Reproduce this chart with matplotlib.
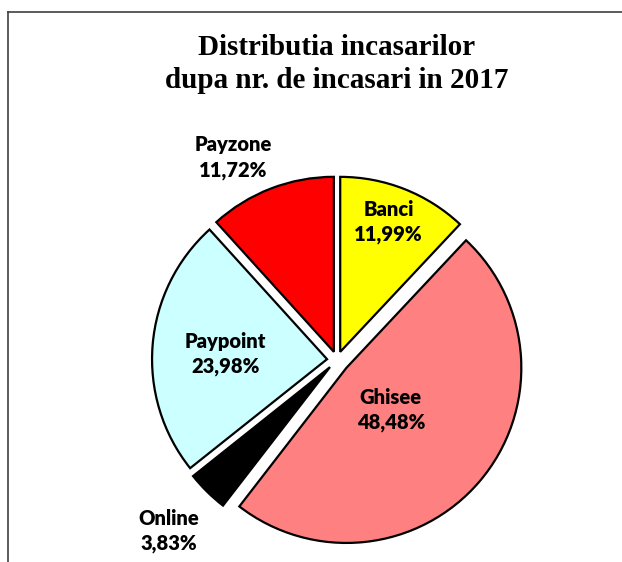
import numpy as np
import matplotlib
matplotlib.use("Agg")
import matplotlib.pyplot as plt
from matplotlib.lines import Line2D

categories = ["Banci", "Ghisee", "Online", "Paypoint", "Payzone"]
values = [11.99, 48.48, 3.83, 23.98, 11.72]
labels_pct = ["11,99%", "48,48%", "3,83%", "23,98%", "11,72%"]
colors = ["#FFFF00", "#FF8080", "#000000", "#CCFFFF", "#FF0000"]
explode = [0.05, 0.07, 0.057, 0.057, 0.05]
# label radius (fraction of R) and angle shift in degrees
label_r = [0.84, 0.42, 1.37, 0.64, 1.30]
label_dang = [1.0, -2.5, 0.0, 1.5, 6.0]

W, H, DPI = 622, 562, 100
fig = plt.figure(figsize=(W / DPI, H / DPI), dpi=DPI)
ax = fig.add_axes([0, 0, 1, 1])

R_px = 175.0
cx_px, cy_px = 337.0, 360.0  # from top-left

wedges, _ = ax.pie(values, colors=colors, startangle=90, counterclock=False,
                   explode=explode, radius=1.0,
                   wedgeprops=dict(edgecolor="black", linewidth=1.6))

for w, cat, pct, rf, da in zip(wedges, categories, labels_pct, label_r, label_dang):
    ang = np.deg2rad((w.theta1 + w.theta2) / 2 + da)
    x, y = rf * np.cos(ang), rf * np.sin(ang)
    ax.text(x, y, f"{cat}\n{pct}", ha="center", va="center", fontsize=14.5,
            fontweight="heavy", family="Lato", color="black", linespacing=1.35)

ax.set_aspect("auto")
ax.set_xlim(-cx_px / R_px, (W - cx_px) / R_px)
ax.set_ylim(-(H - cy_px) / R_px, cy_px / R_px)
ax.axis("off")

fig.text(337 / W, 1 - 64 / H, "Distributia incasarilor\ndupa nr. de incasari in 2017",
         ha="center", va="center", fontsize=21, fontweight="bold",
         family="Liberation Serif", linespacing=1.25)

# outer frame (left and top edges visible)
fig.add_artist(Line2D([8 / W, 8 / W], [0, 1 - 12 / H], transform=fig.transFigure,
                      color="#404040", linewidth=1.2))
fig.add_artist(Line2D([8 / W, 1], [1 - 12 / H, 1 - 12 / H], transform=fig.transFigure,
                      color="#404040", linewidth=1.2))

fig.savefig("out.png", dpi=DPI)
